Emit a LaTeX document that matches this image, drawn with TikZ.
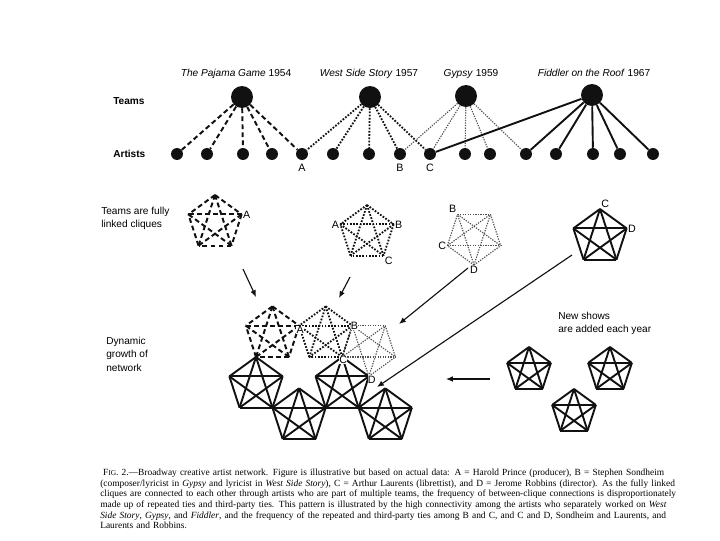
\documentclass[tikz,border=0pt]{standalone}
\usepackage{fontspec}
\setmainfont{Liberation Sans}
\newfontfamily\capfont{Liberation Serif}
\usetikzlibrary{arrows.meta,positioning,calc}
\usepackage{xcolor}
\definecolor{ink}{HTML}{111111}
\definecolor{gypgrey}{HTML}{505050}

\begin{document}
\begin{tikzpicture}[x=0.025cm, y=-0.025cm,
    team/.style={circle, fill=ink, minimum size=15.6pt, inner sep=0pt},
    artist/.style={circle, fill=ink, minimum size=8.5pt, inner sep=0pt},
    title/.style={font=\fontsize{7.2}{8.6}\selectfont, anchor=base},
    rowlabel/.style={font=\fontsize{7.2}{8.6}\selectfont\bfseries, anchor=west, inner sep=0pt},
    note/.style={font=\fontsize{7.2}{9.5}\selectfont, align=left, anchor=north west, inner sep=0pt},
    letter/.style={font=\fontsize{7.6}{9}\selectfont, inner sep=0.8pt},
    pajline/.style={line width=1.4pt, dash pattern=on 3.5pt off 2.2pt, color=ink},
    wssline/.style={line width=1.3pt, dash pattern=on 1.2pt off 1.1pt, color=ink},
    gypline/.style={line width=0.8pt, dash pattern=on 0.9pt off 0.9pt, color=gypgrey},
    fidline/.style={line width=1.35pt, color=ink},
    arrow/.style={-{Latex[length=1.7mm,width=1.4mm]}, line width=0.8pt, color=ink},
]
\fill[white] (0,0) rectangle (720,540);
\useasboundingbox (0,0) rectangle (720,540);

% show titles
\node[title] (ttl1) at (236,76) {\textit{The Pajama Game} 1954};
\node[title] (ttl2) at (369,76) {\textit{West Side Story} 1957};
\node[title] (ttl3) at (471,76) {\textit{Gypsy} 1959};
\node[title] (ttl4) at (594,76) {\textit{Fiddler on the Roof} 1967};

% teams and artists
\node[rowlabel] (teamlbl) at (113,101) {Teams};
\node[rowlabel] (artlbl) at (113,154) {Artists};
\node[team] (pajama) at (242,97) {};
\node[team] (westside) at (370,97) {};
\node[team] (gypsy) at (466,96) {};
\node[team] (fiddler) at (592,95) {};
\foreach \x [count=\k] in {177,207,243,272,302,333,369,400,430,465,490,526,556,593,620,653}
    \node[artist] (a\k) at (\x,154) {};
\node[letter, below=1.5pt of a5] (lblA) {A};
\node[letter, below=1.5pt of a8] (lblB) {B};
\node[letter, below=1.5pt of a9] (lblC) {C};

\foreach \k in {1,...,5} \draw[pajline] (pajama) -- (a\k);
\foreach \k in {5,...,9} \draw[wssline] (westside) -- (a\k);
\foreach \k in {8,...,12} \draw[gypline] (gypsy) -- (a\k);
\foreach \k in {9,12,13,14,15,16} \draw[fidline] (fiddler) -- (a\k);

% cliques: name/centre x/centre y/radius/first vertex angle/style
\foreach \cq/\cx/\cy/\rad/\tilt/\sty in {
    pjm/215/223/28/-90/pajline, wsm/367/233/28/-90/wssline,
    gym/474/237/28/90/gypline, fdm/600/237/28/-90/fidline,
    pjb/272.46/334.35/28/-90/pajline, wsb/325.72/334.35/28/-90/wssline,
    gyb/368.81/348.35/28/90/gypline,
    sb1/256/385/28/-90/fidline, sb2/299.09/416.3/28/-90/fidline,
    sb3/342.18/385/28/-90/fidline, sb4/385.27/416.3/28/-90/fidline,
    nw1/529/370/23/-90/fidline, nw2/610/370/23/-90/fidline, nw3/574/412/23/-90/fidline} {
    \foreach \k in {1,...,5}
        \coordinate (\cq\k) at ($(\cx,\cy)+(\tilt+72*\k-72:\rad)$);
    \foreach \i/\j in {1/2,1/3,1/4,1/5,2/3,2/4,2/5,3/4,3/5,4/5}
        \draw[\sty] (\cq\i) -- (\cq\j);
}

% vertex labels
\node[letter, anchor=west] at (pjm2) {A};
\node[letter, anchor=east] at (wsm5) {A};
\node[letter, anchor=west] at (wsm2) {B};
\node[letter, anchor=north west] at (wsm3) {C};
\node[letter, anchor=south east] at (gym3) {B};
\node[letter, anchor=east] at (gym2) {C};
\node[letter, anchor=north] at (gym1) {D};
\node[letter, anchor=south west] at (fdm1) {C};
\node[letter, anchor=west] at (fdm2) {D};
\node[letter, fill=white, inner sep=0.2pt] at ($(pjb2)+(1,4)$) {A};
\node[letter, fill=white, inner sep=0.2pt] at ($(wsb2)+(2,0)$) {B};
\node[letter, fill=white, inner sep=0.2pt] at ($(wsb3)+(1,3)$) {C};
\node[letter, fill=white, inner sep=0.2pt] at ($(gyb1)+(3,3)$) {D};

% growth arrows
\coordinate (pjtail) at (243,269);
\coordinate (pjhead) at (256,297);
\coordinate (wstail) at (350,277);
\coordinate (wshead) at (339,298);
\coordinate (gytail) at (468,268);
\coordinate (gyhead) at (399,324);
\coordinate (fdtail) at (572,255);
\coordinate (fdhead) at (377,387);
\coordinate (nwtail) at (490,379);
\coordinate (nwhead) at (446,379);
\draw[arrow] (pjtail) -- (pjhead);
\draw[arrow] (wstail) -- (wshead);
\draw[arrow] (gytail) -- (gyhead);
\draw[arrow] (fdtail) -- (fdhead);
\draw[arrow] (nwtail) -- (nwhead);

% side notes
\node[note] (cliquenote) at (101,207) {Teams are fully\\linked cliques};
\node[note] (growthnote) at (106,337) {Dynamic\\growth of\\network};
\node[note] (newnote) at (558,312) {New shows\\are added each year};

% caption
\node[anchor=north west, inner sep=0pt, text width=410pt,
      font=\capfont\fontsize{6.7}{7.5}\selectfont] (caption) at (100,469) {%
\hbox to 410pt{\hspace{2pt}F{\fontsize{5.3}{6}\selectfont IG}. 2.—Broadway creative artist network. Figure is illustrative but based on actual data: A = Harold Prince (producer), B = Stephen Sondheim}
\hbox to 410pt{(composer/lyricist in \textit{Gypsy} and lyricist in \textit{West Side Story}), C = Arthur Laurents (librettist), and D = Jerome Robbins (director). As the fully linked}
\hbox to 410pt{cliques are connected to each other through artists who are part of multiple teams, the frequency of between-clique connections is disproportionately}
\hbox to 410pt{made up of repeated ties and third-party ties. This pattern is illustrated by the high connectivity among the artists who separately worked on \textit{West}}
\hbox to 410pt{\textit{Side Story}, \textit{Gypsy}, and \textit{Fiddler}, and the frequency of the repeated and third-party ties among B and C, and C and D, Sondheim and Laurents, and}
\hbox{Laurents and Robbins.}};
\end{tikzpicture}
\end{document}
